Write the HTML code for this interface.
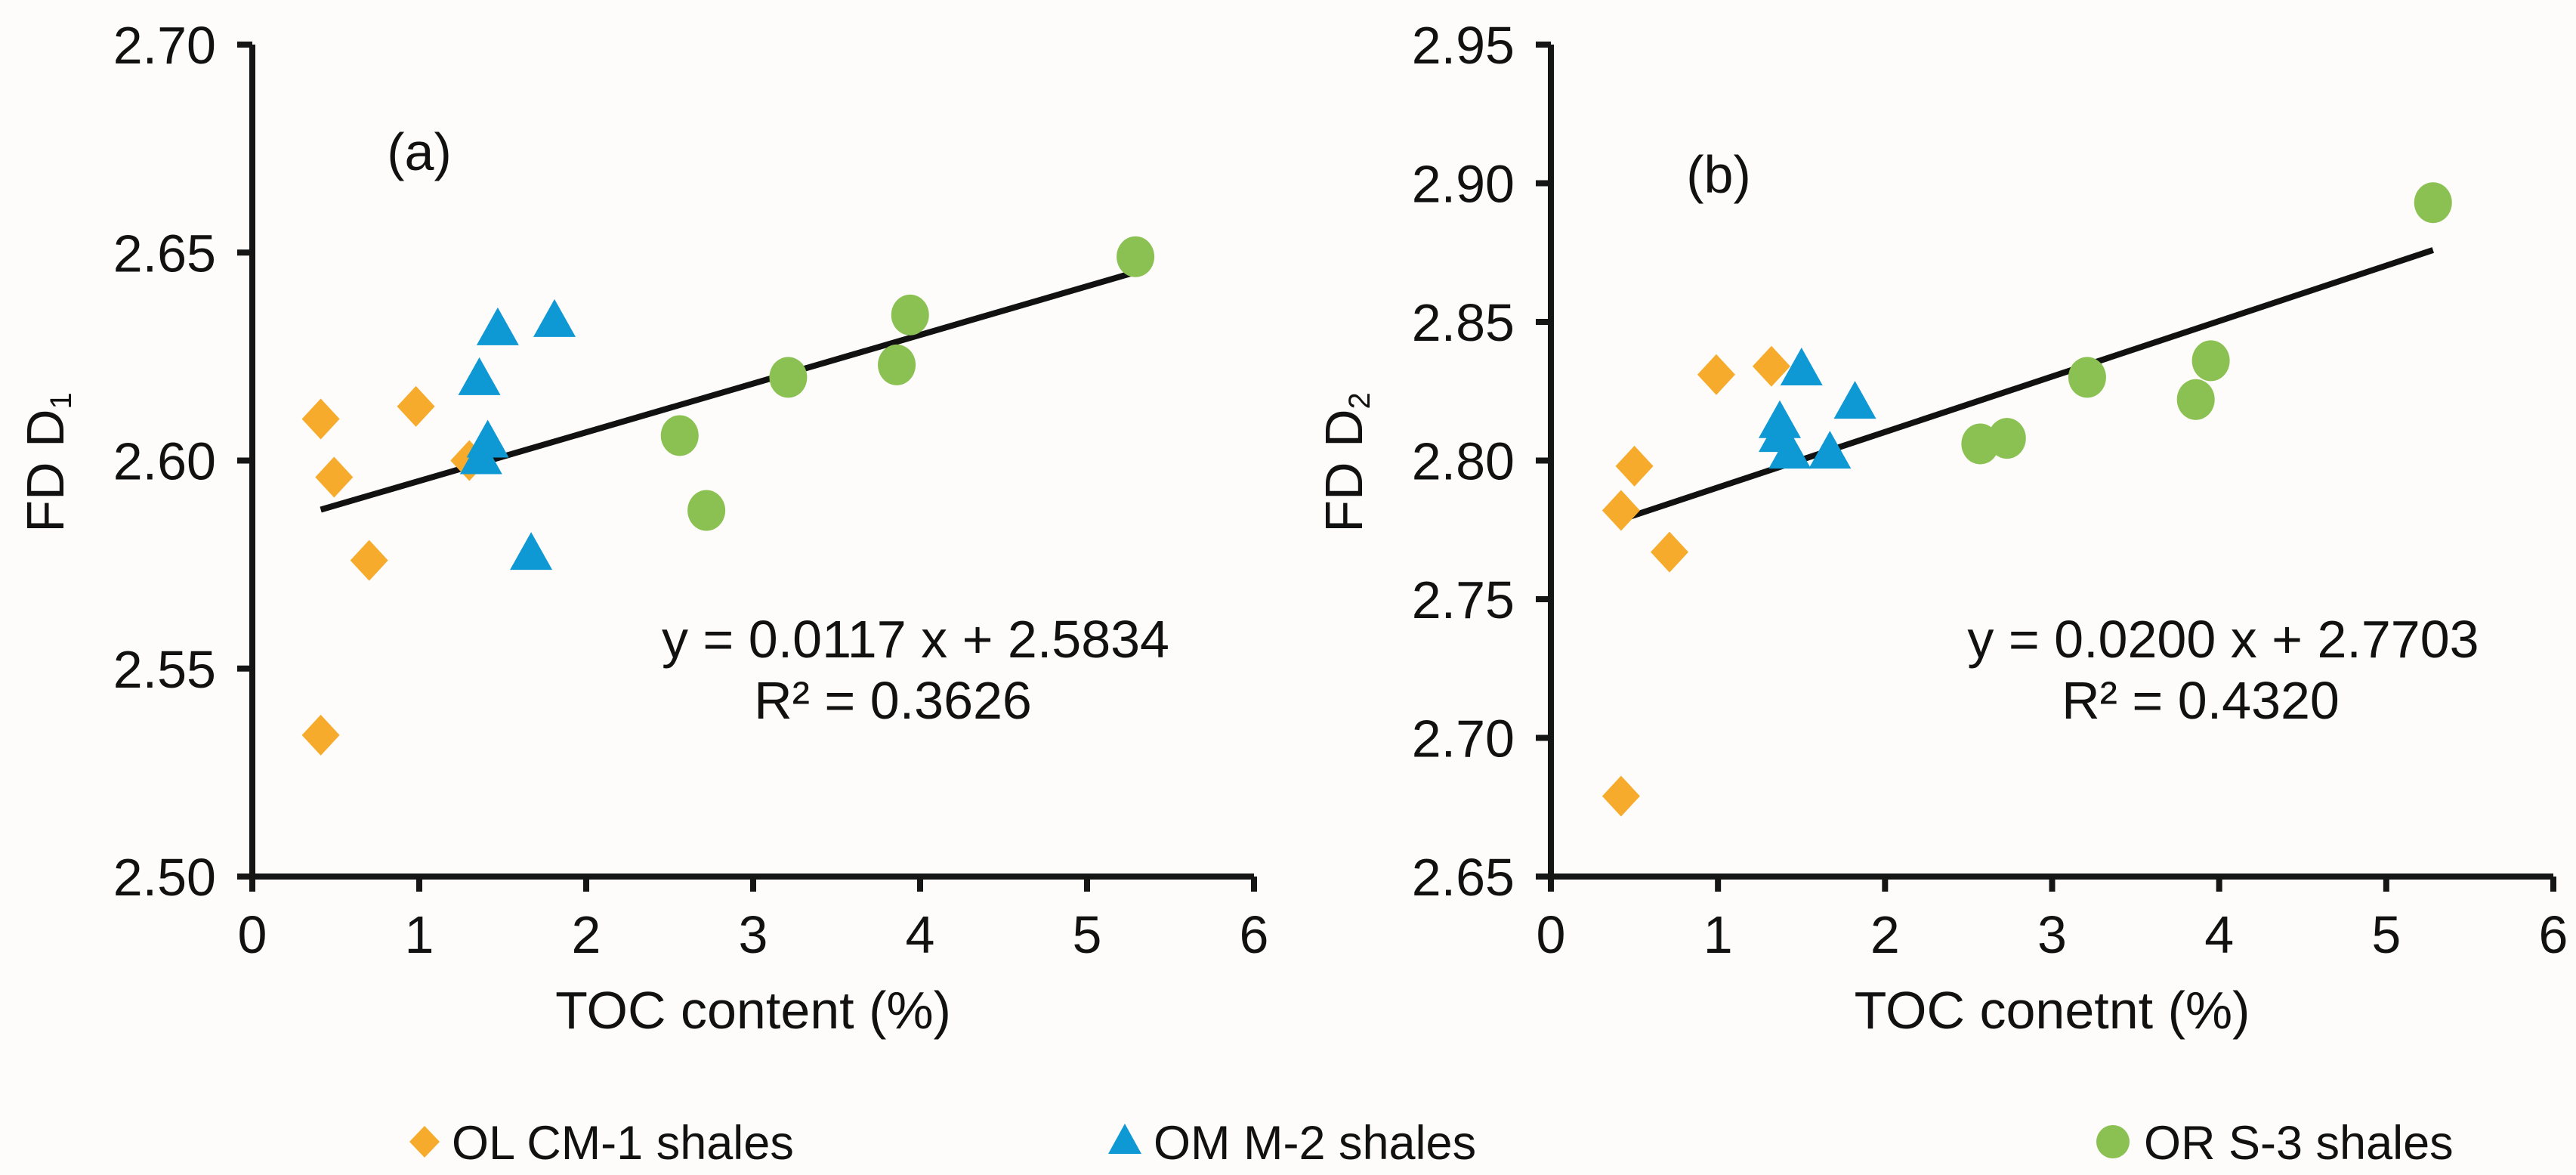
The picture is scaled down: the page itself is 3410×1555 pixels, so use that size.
<!DOCTYPE html>
<html><head><meta charset="utf-8"><style>
html,body{margin:0;padding:0;background:#fdfcfa;}
svg{display:block;font-family:"Liberation Sans",Arial,sans-serif;}
</style></head><body>
<svg id="fig" width="3410" height="1555" viewBox="0 0 3410 1555" xmlns="http://www.w3.org/2000/svg">
<rect x="0" y="0" width="3410" height="1555" fill="#fdfcfa"/>
<g id="layer"></g>
</svg>
<script>
const xTicks=[0,1,2,3,4,5,6];
const yTicksA=["2.50","2.55","2.60","2.65","2.70"];
const yTicksB=["2.65","2.70","2.75","2.80","2.85","2.90","2.95"];
const olX_A=[0.41,0.49,0.98,1.30,0.70,0.41];
const olY_A=[2.610,2.596,2.613,2.600,2.576,2.534];
const omX_A=[1.36,1.47,1.81,1.41,1.37,1.67];
const omY_A=[2.619,2.631,2.633,2.604,2.600,2.577];
const orX_A=[2.56,2.72,3.21,3.94,3.86,5.29];
const orY_A=[2.606,2.588,2.620,2.635,2.623,2.649];
const olX_B=[0.42,0.42,0.50,0.71,0.99,1.32];
const olY_B=[2.679,2.782,2.798,2.767,2.831,2.834];
const omX_B=[1.50,1.37,1.37,1.43,1.67,1.82];
const omY_B=[2.832,2.813,2.808,2.802,2.802,2.820];
const orX_B=[2.57,2.73,3.21,3.95,3.86,5.28];
const orY_B=[2.806,2.808,2.830,2.836,2.822,2.893];
const fitA=[0.0117,2.5834], fitB=[0.0200,2.7703];
const fitRangeA=[0.41,5.29], fitRangeB=[0.42,5.28];

const NS="http://www.w3.org/2000/svg";
const layer=document.getElementById('layer');
const C_OL="#f6ab2c",C_OM="#0e98d4",C_OR="#8bc152";
function mk(tag,attrs,parent){const e=document.createElementNS(NS,tag);for(const k in attrs)e.setAttribute(k,attrs[k]);(parent||layer).appendChild(e);return e;}
function txt(s,x,y,size,anchor,parent){const t=mk('text',{x:x,y:y,'font-size':size,'text-anchor':anchor||'middle',fill:'#111'},parent);t.textContent=s;return t;}

function panel(cfg){
  const g=mk('g',{});
  
  
  const X0=cfg.x0,X1=cfg.x1,YT=59,YB=1160;
  const ymin=parseFloat(cfg.yt[0]),ymax=parseFloat(cfg.yt[cfg.yt.length-1]);
  const sx=v=>X0+(v-0)/(6-0)*(X1-X0);
  const sy=v=>YB-(v-ymin)/(ymax-ymin)*(YB-YT);
  const ax=mk('path',{d:`M${X0} ${YT} L${X0} ${YB} L${X1} ${YB}`,stroke:'#151515','stroke-width':8,fill:'none'},g);
  
  
  cfg.yt.forEach(s=>{const y=sy(parseFloat(s));
    mk('line',{x1:X0-20,y1:y,x2:X0,y2:y,stroke:'#151515','stroke-width':8},g);
    const t=txt(s,X0-48,y+25,70,'end',g);
    
    });
  xTicks.forEach(v=>{const x=sx(v);
    mk('line',{x1:x,y1:YB,x2:x,y2:YB+20,stroke:'#151515','stroke-width':8},g);
    const t=txt(String(v),x,YB+101,70,'middle',g);
    
    });
  const xt=txt(cfg.xtitle,(X0+X1)/2,1361,70,'middle',g);
  
  
  const yt=mk('text',{x:0,y:0,'font-size':70,'text-anchor':'middle',fill:'#111',transform:`translate(${X0-250},612) rotate(-90)`},g);
  
  
  yt.innerHTML=`FD D<tspan font-size="40" dy="10">${cfg.sub}</tspan>`;
  const pl=txt(cfg.label,cfg.lx,cfg.ly,70,'middle',g);
  
  
  const f=cfg.fit,r=cfg.fr;
  const tl=mk('line',{x1:sx(r[0]),y1:sy(f[0]*r[0]+f[1]),x2:sx(r[1]),y2:sy(f[0]*r[1]+f[1]),stroke:'#111','stroke-width':8},g);
  
  
  cfg.ol[0].forEach((v,i)=>{const x=sx(v),y=sy(cfg.ol[1][i]);
    const d=mk('path',{d:`M${x} ${y-27} L${x+25} ${y} L${x} ${y+27} L${x-25} ${y} Z`,fill:C_OL},g);
    
    });
  cfg.om[0].forEach((v,i)=>{const x=sx(v),y=sy(cfg.om[1][i]);
    const d=mk('path',{d:`M${x} ${y-32} L${x+28} ${y+18} L${x-28} ${y+18} Z`,fill:C_OM},g);
    
    });
  cfg.or[0].forEach((v,i)=>{const x=sx(v),y=sy(cfg.or[1][i]);
    const d=mk('ellipse',{cx:x,cy:y,rx:25,ry:27,fill:C_OR},g);
    
    });
  const e1=txt(cfg.eq,cfg.ex,870,70,'middle',g);
  
  
  const e2=txt(cfg.r2,cfg.ex-30,951,70,'middle',g);
  
  
}
panel({name:'chart-a',x0:334,x1:1660,yt:yTicksA,xtitle:'TOC content (%)',sub:'1',label:'(a)',lx:555,ly:225,
  fit:fitA,fr:fitRangeA,ol:[olX_A,olY_A],om:[omX_A,omY_A],or:[orX_A,orY_A],eq:'y = 0.0117 x + 2.5834',r2:'R² = 0.3626',ex:1212});
panel({name:'chart-b',x0:2053,x1:3380,yt:yTicksB,xtitle:'TOC conetnt (%)',sub:'2',label:'(b)',lx:2275,ly:255,
  fit:fitB,fr:fitRangeB,ol:[olX_B,olY_B],om:[omX_B,omY_B],or:[orX_B,orY_B],eq:'y = 0.0200 x + 2.7703',r2:'R² = 0.4320',ex:2943});
const lg=mk('g',{});


const LY=1511;
const m1=mk('path',{d:`M562 ${LY-21} L582 ${LY} L562 ${LY+21} L542 ${LY} Z`,fill:C_OL},lg);


const t1=txt('OL CM-1 shales',598,LY+23,63,'start',lg);


const m2=mk('path',{d:`M1489 ${LY-24} L1511 ${LY+16} L1467 ${LY+16} Z`,fill:C_OM},lg);


const t2=txt('OM M-2 shales',1527,LY+23,63,'start',lg);


const m3=mk('circle',{cx:2797,cy:LY,r:22,fill:C_OR},lg);


const t3=txt('OR S-3 shales',2838,LY+23,63,'start',lg);


</script>
</body></html>
